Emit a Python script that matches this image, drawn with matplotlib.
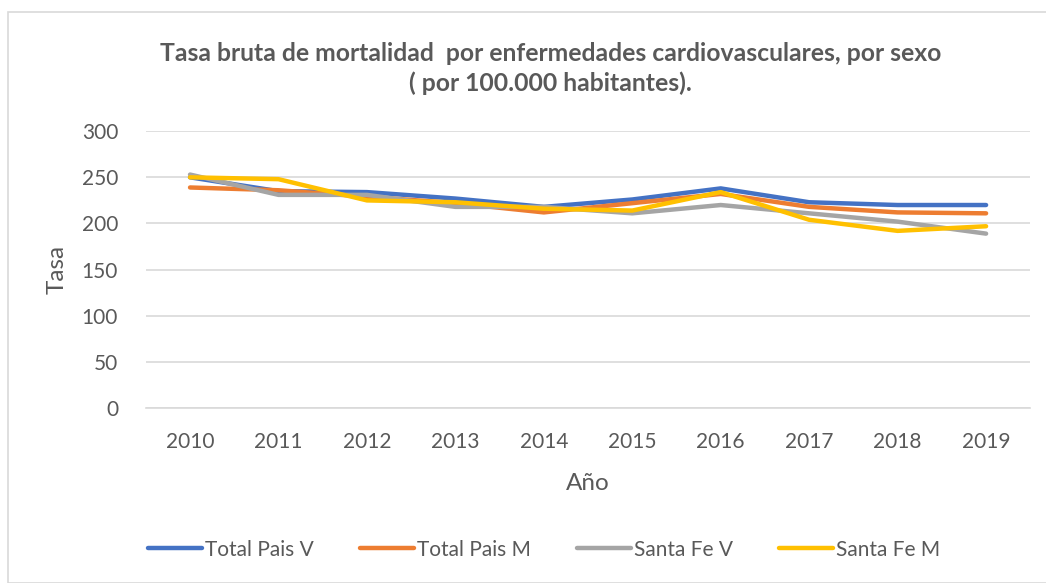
import matplotlib.pyplot as plt
from matplotlib import rcParams
from matplotlib.patches import Rectangle

rcParams['font.family'] = ['Lato', 'DejaVu Sans']

# Datos
anios = ['2010', '2011', '2012', '2013', '2014', '2015', '2016', '2017', '2018', '2019']
total_pais_v = [250, 235, 234, 227, 218, 226, 238, 223, 220, 220]
total_pais_m = [239, 236, 229, 222, 212, 222, 232, 218, 212, 211]
santa_fe_v = [253, 231, 231, 218, 218, 211, 220, 211, 202, 189]
santa_fe_m = [250, 248, 225, 223, 216, 214, 234, 204, 192, 197]

series = [
    ('Total Pais V', total_pais_v, '#4472C4'),
    ('Total Pais M', total_pais_m, '#ED7D31'),
    ('Santa Fe V', santa_fe_v, '#A5A5A5'),
    ('Santa Fe M', santa_fe_m, '#FFC000'),
]

fig = plt.figure(figsize=(10.46, 5.83), dpi=100)
fig.patches.append(Rectangle((8 / 1046, 0), 1040 / 1046, 1 - 12 / 583,
                             transform=fig.transFigure, fill=False,
                             edgecolor='#d9d9d9', linewidth=1.2))
ax = fig.add_axes([0.1394, 0.30, 0.8456, 0.475])

x = list(range(len(anios)))
for nombre, vals, color in series:
    ax.plot(x, vals, color=color, linewidth=3.2, label=nombre,
            solid_capstyle='round')

ax.set_xlim(-0.5, 9.5)
ax.set_ylim(0, 300)
ax.set_yticks(range(0, 301, 50))
ax.set_xticks(x)
ax.set_xticklabels(anios)
ax.grid(axis='y', color='#d9d9d9', linewidth=1.2)
ax.set_axisbelow(True)
for s in ['top', 'right', 'left']:
    ax.spines[s].set_visible(False)
ax.spines['bottom'].set_color('#d9d9d9')
ax.spines['bottom'].set_linewidth(1.2)
ax.tick_params(length=0, labelsize=15, colors='#595959')
ax.tick_params(axis='x', pad=17)
ax.tick_params(axis='y', pad=20)

ax.set_xlabel('Año', fontsize=17.5, color='#595959', labelpad=15)
ax.set_ylabel('Tasa', fontsize=17.5, color='#595959', labelpad=10)

fig.text(0.526, 0.8825,
         'Tasa bruta de mortalidad  por enfermedades cardiovasculares, por sexo\n( por 100.000 habitantes).',
         ha='center', va='center', fontsize=17.8, fontweight='bold',
         color='#595959', linespacing=1.32)

fig.legend(loc='center', bbox_to_anchor=(0.52, 0.057), ncol=4, frameon=False,
           fontsize=15, handlelength=2.6, columnspacing=2.2, handletextpad=0.15,
           labelcolor='#595959')

plt.savefig('out.png', dpi=100)
